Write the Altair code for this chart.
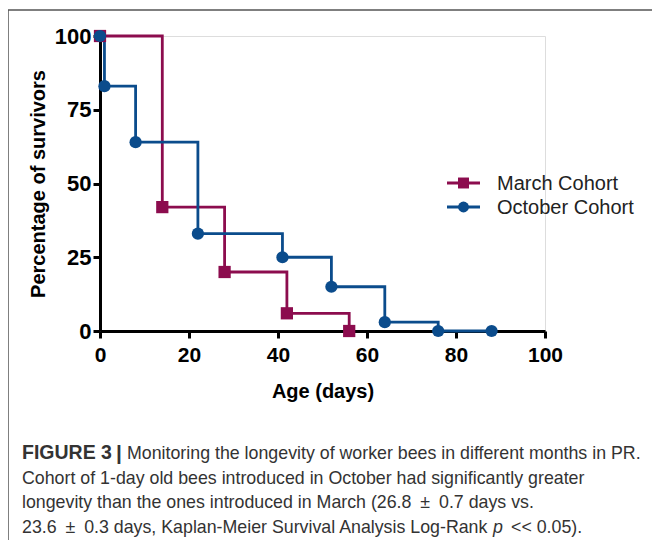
import altair as alt
import pandas as pd

# ---- data ----
march_days = [0, 14, 28, 42, 56]
march_surv = [100, 42, 20, 6, 0]
october_days = [0, 1, 8, 22, 41, 52, 64, 76, 88]
october_surv = [100, 83, 64, 33, 25, 15, 3, 0, 0]
series = ["March Cohort", "October Cohort"]
shapes = ["square", "circle"]
colors = ["#8C0C4E", "#0B4C8C"]
x_ticks = [0, 20, 40, 60, 80, 100]
y_ticks = [0, 25, 50, 75, 100]
PM = "\u2002\u00b1\u2002"
caption_lines = [
    "Monitoring the longevity of worker bees in different months in PR.",
    "Cohort of 1-day old bees introduced in October had significantly greater",
    f"longevity than the ones introduced in March (26.8{PM}0.7 days vs.",
    f"23.6{PM}0.3 days, Kaplan-Meier Survival Analysis Log-Rank",
]
caption_tail = ["p", "<< 0.05)."]

df = pd.concat([
    pd.DataFrame({"day": march_days, "surv": march_surv, "cohort": series[0], "ord": range(len(march_days))}),
    pd.DataFrame({"day": october_days, "surv": october_surv, "cohort": series[1], "ord": range(len(october_days))}),
])

W, H = 445, 295
FONT = "Liberation Sans"

color = alt.Color("cohort:N", scale=alt.Scale(domain=series, range=colors), legend=None)
shape = alt.Shape("cohort:N", scale=alt.Scale(domain=series, range=shapes), legend=None)

x = alt.X("day:Q", scale=alt.Scale(domain=[0, 100], nice=False),
          axis=alt.Axis(values=x_ticks, title="Age (days)", grid=False, domainWidth=3,
                        domainColor="black", tickColor="black", tickWidth=3, tickSize=7,
                        labelFont=FONT, labelFontWeight="bold", labelFontSize=21, labelColor="black",
                        labelPadding=6, titleFont=FONT, titleFontWeight="bold", titleFontSize=20,
                        titleColor="black", titlePadding=16, labelFlush=False))
y = alt.Y("surv:Q", scale=alt.Scale(domain=[0, 100], nice=False),
          axis=alt.Axis(values=y_ticks, title="Percentage of survivors", grid=False, domainWidth=3,
                        domainColor="black", tickColor="black", tickWidth=3, tickSize=7,
                        labelFont=FONT, labelFontWeight="bold", labelFontSize=22, labelColor="black",
                        labelPadding=2, titleFont=FONT, titleFontWeight="bold", titleFontSize=20,
                        titleColor="black", titlePadding=6, labelFlush=False))

base = alt.Chart(df)
lines = base.mark_line(interpolate="step-after", strokeWidth=2.8).encode(
    x=x, y=y, color=color, order="ord:Q", detail="cohort:N")
points = base.mark_point(filled=True, opacity=1, size=150).encode(
    x=x, y=y, color=color, shape=shape)

# legend (drawn from the series list, coloured through the same scales)
leg_layers = []
leg_x0, leg_y0, leg_dy = 347, 147, 24
for i, name in enumerate(series):
    d = pd.DataFrame({"cohort": [name]})
    yy = leg_y0 + i * leg_dy
    leg_layers.append(alt.Chart(d).mark_rule(strokeWidth=2.8).encode(
        x=alt.value(leg_x0), x2=alt.value(leg_x0 + 33), y=alt.value(yy), color=color))
    leg_layers.append(alt.Chart(d).mark_point(filled=True, opacity=1, size=120).encode(
        x=alt.value(leg_x0 + 16.5), y=alt.value(yy), color=color, shape=shape))
    leg_layers.append(alt.Chart(d).mark_text(
        align="left", baseline="middle", font=FONT, fontSize=20, color="#222222", dy=1
    ).encode(text="cohort:N", x=alt.value(leg_x0 + 50), y=alt.value(yy)))

# figure frame
frame_top = alt.Chart(pd.DataFrame({"a": [0]})).mark_rule(color="#555555", strokeWidth=1.5).encode(
    x=alt.value(-92), x2=alt.value(560), y=alt.value(-26))
frame_left = alt.Chart(pd.DataFrame({"a": [0]})).mark_rule(color="#555555", strokeWidth=1.5).encode(
    x=alt.value(-92), y=alt.value(-26), y2=alt.value(520))

cap_layers = []
cap_y0, cap_dy = 423, 24.7
CF = 17.8
CC = "#333333"
def txt(s, xv, yv, **kw):
    return alt.Chart(pd.DataFrame({"t": [s]})).mark_text(
        align="left", baseline="alphabetic", font=FONT, color=CC, **kw
    ).encode(text="t:N", x=alt.value(xv), y=alt.value(yv))

cap_layers.append(txt("FIGURE 3", -78, cap_y0, fontSize=19.5, fontWeight="bold"))
cap_layers.append(txt("|", 16, cap_y0 + 1, fontSize=21, fontWeight="bold"))
for i, line in enumerate(caption_lines):
    cap_layers.append(txt(line, 27 if i == 0 else -78, cap_y0 + i * cap_dy, fontSize=CF))
cap_layers.append(txt(caption_tail[0], 393, cap_y0 + 3 * cap_dy, fontSize=CF, fontStyle="italic"))
cap_layers.append(txt(caption_tail[1], 411, cap_y0 + 3 * cap_dy, fontSize=CF))

chart = alt.layer(lines, points, *leg_layers, frame_top, frame_left, *cap_layers).properties(
    width=W, height=H,
    autosize=alt.AutoSizeParams(type="none"),
    padding={"left": 92, "top": 28, "right": 107, "bottom": 209},
).configure_view(stroke=None).configure(background="white")

chart.save("out.html", embed_options={"renderer": "svg", "actions": False})
